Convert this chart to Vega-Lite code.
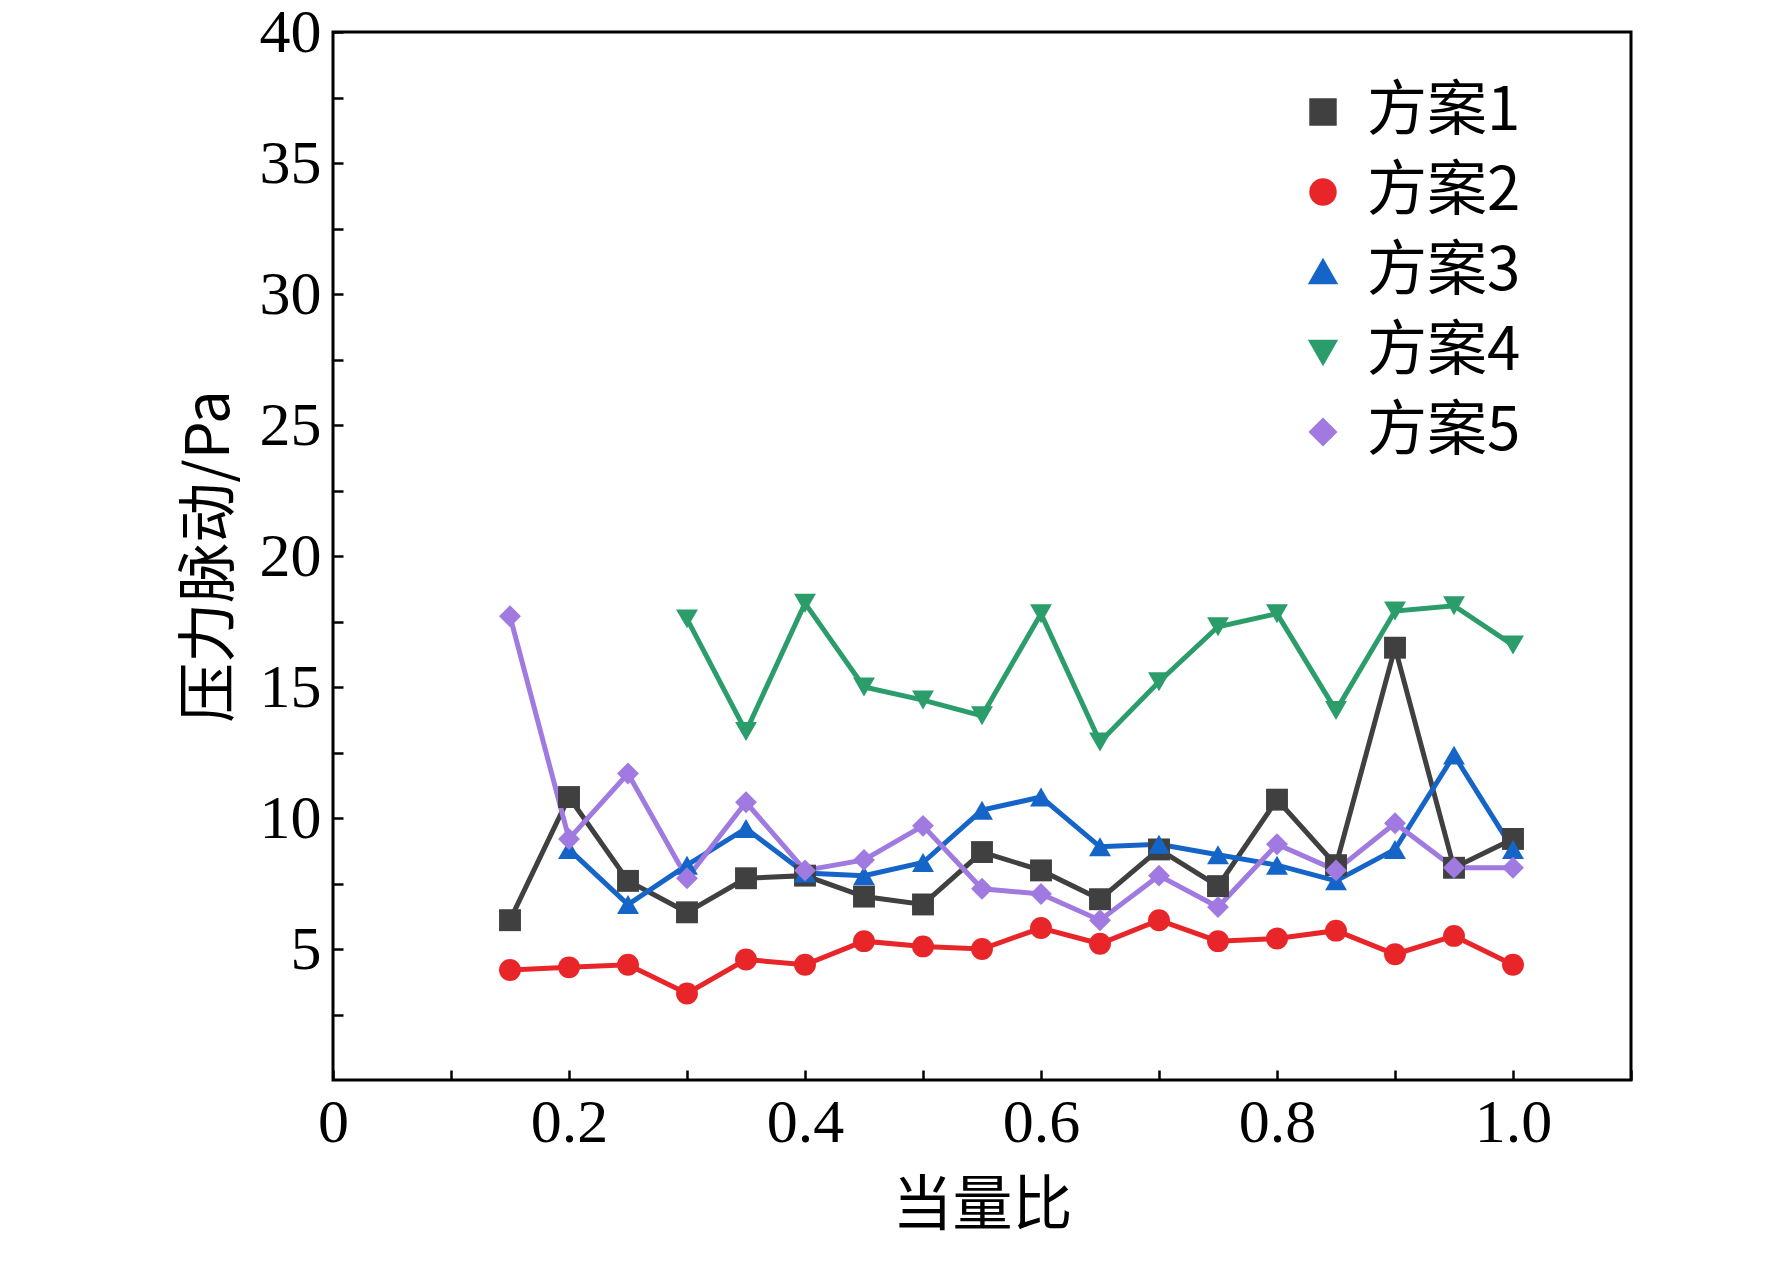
{
"$schema":"https://vega.github.io/schema/vega-lite/v6.json",
"width":1298,"height":1048,
"autosize":{"type":"none"},
"padding":{"left":333,"top":32,"right":141,"bottom":183},
"background":"white",
"config":{"view":{"stroke":"black","strokeWidth":3},"font":"Liberation Serif"},
"data":{"values":[
{"s":"方案1","x":0.15,"y":6.1},{"s":"方案1","x":0.2,"y":10.8},{"s":"方案1","x":0.25,"y":7.6},{"s":"方案1","x":0.3,"y":6.4},{"s":"方案1","x":0.35,"y":7.7},{"s":"方案1","x":0.4,"y":7.8},{"s":"方案1","x":0.45,"y":7.0},{"s":"方案1","x":0.5,"y":6.7},{"s":"方案1","x":0.55,"y":8.7},{"s":"方案1","x":0.6,"y":8.0},{"s":"方案1","x":0.65,"y":6.9},{"s":"方案1","x":0.7,"y":8.8},{"s":"方案1","x":0.75,"y":7.4},{"s":"方案1","x":0.8,"y":10.7},{"s":"方案1","x":0.85,"y":8.2},{"s":"方案1","x":0.9,"y":16.5},{"s":"方案1","x":0.95,"y":8.1},{"s":"方案1","x":1.0,"y":9.2},
{"s":"方案2","x":0.15,"y":4.2},{"s":"方案2","x":0.2,"y":4.3},{"s":"方案2","x":0.25,"y":4.4},{"s":"方案2","x":0.3,"y":3.3},{"s":"方案2","x":0.35,"y":4.6},{"s":"方案2","x":0.4,"y":4.4},{"s":"方案2","x":0.45,"y":5.3},{"s":"方案2","x":0.5,"y":5.1},{"s":"方案2","x":0.55,"y":5.0},{"s":"方案2","x":0.6,"y":5.8},{"s":"方案2","x":0.65,"y":5.2},{"s":"方案2","x":0.7,"y":6.1},{"s":"方案2","x":0.75,"y":5.3},{"s":"方案2","x":0.8,"y":5.4},{"s":"方案2","x":0.85,"y":5.7},{"s":"方案2","x":0.9,"y":4.8},{"s":"方案2","x":0.95,"y":5.5},{"s":"方案2","x":1.0,"y":4.4},
{"s":"方案3","x":0.2,"y":8.8},{"s":"方案3","x":0.25,"y":6.7},{"s":"方案3","x":0.3,"y":8.2},{"s":"方案3","x":0.35,"y":9.6},{"s":"方案3","x":0.4,"y":7.9},{"s":"方案3","x":0.45,"y":7.8},{"s":"方案3","x":0.5,"y":8.3},{"s":"方案3","x":0.55,"y":10.3},{"s":"方案3","x":0.6,"y":10.8},{"s":"方案3","x":0.65,"y":8.9},{"s":"方案3","x":0.7,"y":9.0},{"s":"方案3","x":0.75,"y":8.6},{"s":"方案3","x":0.8,"y":8.2},{"s":"方案3","x":0.85,"y":7.6},{"s":"方案3","x":0.9,"y":8.8},{"s":"方案3","x":0.95,"y":12.4},{"s":"方案3","x":1.0,"y":8.8},
{"s":"方案4","x":0.3,"y":17.6},{"s":"方案4","x":0.35,"y":13.3},{"s":"方案4","x":0.4,"y":18.2},{"s":"方案4","x":0.45,"y":15.0},{"s":"方案4","x":0.5,"y":14.5},{"s":"方案4","x":0.55,"y":13.9},{"s":"方案4","x":0.6,"y":17.8},{"s":"方案4","x":0.65,"y":12.9},{"s":"方案4","x":0.7,"y":15.2},{"s":"方案4","x":0.75,"y":17.3},{"s":"方案4","x":0.8,"y":17.8},{"s":"方案4","x":0.85,"y":14.1},{"s":"方案4","x":0.9,"y":17.9},{"s":"方案4","x":0.95,"y":18.1},{"s":"方案4","x":1.0,"y":16.6},
{"s":"方案5","x":0.15,"y":17.7},{"s":"方案5","x":0.2,"y":9.2},{"s":"方案5","x":0.25,"y":11.7},{"s":"方案5","x":0.3,"y":7.7},{"s":"方案5","x":0.35,"y":10.6},{"s":"方案5","x":0.4,"y":8.0},{"s":"方案5","x":0.45,"y":8.4},{"s":"方案5","x":0.5,"y":9.7},{"s":"方案5","x":0.55,"y":7.3},{"s":"方案5","x":0.6,"y":7.1},{"s":"方案5","x":0.65,"y":6.1},{"s":"方案5","x":0.7,"y":7.8},{"s":"方案5","x":0.75,"y":6.6},{"s":"方案5","x":0.8,"y":9.0},{"s":"方案5","x":0.85,"y":8.0},{"s":"方案5","x":0.9,"y":9.8},{"s":"方案5","x":0.95,"y":8.1},{"s":"方案5","x":1.0,"y":8.1}
]},
"encoding":{
"x":{"field":"x","type":"quantitative","scale":{"domain":[0,1.1],"nice":false},"title":"当量比",
 "axis":{"values":[0,0.1,0.2,0.3,0.4,0.5,0.6,0.7,0.8,0.9,1.0,1.1],"labelExpr":"datum.value==0?'0':(round(datum.value*10)%2==0 && datum.value<1.05 ? format(datum.value,'.1f') : '')","labelAlign":"center","labelFlush":false,"grid":false,"domain":false,"tickSize":-10,"tickWidth":2.5,"tickColor":"black","labelFontSize":62,"labelColor":"black","titleFontSize":60,"titleColor":"black","titleFontWeight":"normal","labelPadding":22,"titlePadding":24,"labelFont":"Liberation Serif","titleFont":"Noto Sans CJK SC"}},
"y":{"field":"y","type":"quantitative","scale":{"domain":[0,40],"nice":false},"title":"压力脉动/Pa",
 "axis":{"values":[2.5,5,7.5,10,12.5,15,17.5,20,22.5,25,27.5,30,32.5,35,37.5,40],"labelExpr":"datum.value%5==0?datum.value:''","grid":false,"domain":false,"tickSize":-10,"tickWidth":2.5,"tickColor":"black","labelFontSize":62,"labelColor":"black","titleFontSize":60,"titleColor":"black","titleFontWeight":"normal","labelPadding":22,"titlePadding":18,"labelFont":"Liberation Serif","titleFont":"Noto Sans CJK SC"}},
"color":{"field":"s","type":"nominal","scale":{"domain":["方案1","方案2","方案3","方案4","方案5"],"range":["#404040","#e8262a","#1565c8","#2a9d6a","#a07ae0"]},
 "legend":{"orient":"none","legendX":960,"legendY":50,"title":null,"labelFontSize":60,"labelColor":"black","labelFont":"Noto Sans CJK SC","symbolSize":550,"rowPadding":20,"symbolStrokeWidth":4,"labelOffset":14}}
},
"layer":[
{"mark":{"type":"line","strokeWidth":5}},
{"mark":{"type":"point","filled":true,"size":480,"opacity":1},
 "encoding":{"shape":{"field":"s","type":"nominal","scale":{"domain":["方案1","方案2","方案3","方案4","方案5"],"range":["square","circle","triangle-up","triangle-down","diamond"]},"legend":null}}}
]
}
